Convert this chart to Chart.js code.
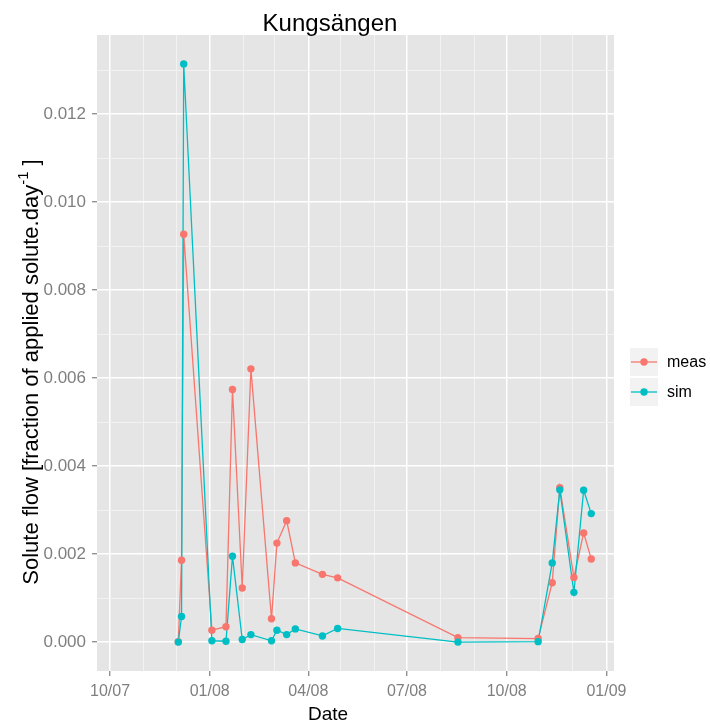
<!DOCTYPE html>
<html>
<head>
<meta charset="utf-8">
<script src="https://cdn.jsdelivr.net/npm/chart.js@4.4.0/dist/chart.umd.min.js"></script>
<style>
html, body { margin: 0; padding: 0; background: #ffffff; }
#chartBox { width: 710px; height: 725px; }
</style>
</head>
<body>
<div id="chartBox"><canvas id="flowChart" width="710" height="725"></canvas></div>
<script>
// sampling dates and the two series (fraction of applied solute per day)
var sampleDates = ["2007-12-03", "2007-12-06", "2007-12-08", "2008-01-03", "2008-01-16", "2008-01-22", "2008-01-31",
                   "2008-02-08", "2008-02-27", "2008-03-03", "2008-03-12", "2008-03-20", "2008-04-14", "2008-04-28",
                   "2008-08-17", "2008-10-30", "2008-11-12", "2008-11-19", "2008-12-02", "2008-12-11", "2008-12-18"];
var measValues = [0.00001, 0.00186, 0.00927, 0.00027, 0.00035, 0.00574, 0.00123,
                  0.00621, 0.00053, 0.00225, 0.00276, 0.00180, 0.00154, 0.00146,
                  0.00010, 0.00008, 0.00135, 0.00351, 0.00147, 0.00248, 0.00189];
var simValues = [0.00000, 0.00058, 0.01314, 0.00003, 0.00002, 0.00195, 0.00006,
                 0.00017, 0.00003, 0.00027, 0.00017, 0.00030, 0.00014, 0.00031,
                 0.00000, 0.00001, 0.00180, 0.00346, 0.00113, 0.00345, 0.00292];
var seriesNames = ["meas", "sim"];
var seriesColors = ["#F8766D", "#00BFC4"];

// axis breaks
var xMajorDates = ["2007-10-01", "2008-01-01", "2008-04-01", "2008-07-01", "2008-10-01", "2009-01-01"];
var xMajorLabels = ["10/07", "01/08", "04/08", "07/08", "10/08", "01/09"];
var xMinorDates = ["2007-11-01", "2007-12-01", "2008-02-01", "2008-03-01", "2008-05-01", "2008-06-01",
                   "2008-08-01", "2008-09-01", "2008-11-01", "2008-12-01"];
var xLimits = ["2007-09-19", "2009-01-08"];
var yMajorTicks = [0, 0.002, 0.004, 0.006, 0.008, 0.010, 0.012];
var yTickLabels = ["0.000", "0.002", "0.004", "0.006", "0.008", "0.010", "0.012"];
var yMinorTicks = [0.001, 0.003, 0.005, 0.007, 0.009, 0.011, 0.013];
var yLimits = [-0.000657, 0.013797];

var chartTitle = "Kungsängen";
var xTitle = "Date";
var yTitleMain = "Solute flow [fraction of applied solute.day";
var yTitleSup = "-1";
var yTitleEnd = " ]";

var fontFamily = "'Liberation Sans', Arial, sans-serif";

function toTime(s)
{
    var p = s.split("-");
    return Date.UTC(+p[0], +p[1] - 1, +p[2]);
}

var xMajorTimes = xMajorDates.map(toTime);
var xMinorTimes = xMinorDates.map(toTime);

function majorIndexX(v)
{
    for (var i = 0; i < xMajorTimes.length; i++)
    {
        if (Math.abs(xMajorTimes[i] - v) < 1000) return i;
    }
    return -1;
}

function majorIndexY(v)
{
    for (var i = 0; i < yMajorTicks.length; i++)
    {
        if (Math.abs(yMajorTicks[i] - v) < 1e-9) return i;
    }
    return -1;
}

function makePoints(values)
{
    var pts = [];
    for (var i = 0; i < sampleDates.length; i++)
    {
        pts.push({x: toTime(sampleDates[i]), y: values[i]});
    }
    return pts;
}

var measPoints = makePoints(measValues);
var simPoints = makePoints(simValues);

var panelPlugin = {
    id: "panelPlugin",
    beforeDraw: function (chart) {
        var ctx = chart.ctx;
        var a = chart.chartArea;
        ctx.save();
        ctx.fillStyle = "#ffffff";
        ctx.fillRect(0, 0, chart.width, chart.height);
        ctx.fillStyle = "#E5E5E5";
        ctx.fillRect(a.left, a.top, a.right - a.left, a.bottom - a.top);
        ctx.restore();
    },
    afterDraw: function (chart) {
        var ctx = chart.ctx;
        ctx.save();

        // title
        ctx.fillStyle = "#000000";
        ctx.font = "24px " + fontFamily;
        ctx.textAlign = "center";
        ctx.textBaseline = "alphabetic";
        ctx.fillText(chartTitle, 330, 31);

        // x axis title
        ctx.font = "19px " + fontFamily;
        ctx.fillText(xTitle, 328, 720);

        // y axis title with superscript
        ctx.translate(38, 372);
        ctx.rotate(-Math.PI / 2);
        ctx.textAlign = "left";
        ctx.font = "22px " + fontFamily;
        var w1 = ctx.measureText(yTitleMain).width;
        var w3 = ctx.measureText(yTitleEnd).width;
        ctx.font = "15px " + fontFamily;
        var w2 = ctx.measureText(yTitleSup).width;
        var start = -(w1 + w2 + w3) / 2;
        ctx.font = "22px " + fontFamily;
        ctx.fillText(yTitleMain, start, 0);
        ctx.font = "15px " + fontFamily;
        ctx.fillText(yTitleSup, start + w1, -10);
        ctx.font = "22px " + fontFamily;
        ctx.fillText(yTitleEnd, start + w1 + w2, 0);
        ctx.restore();

        // legend
        ctx.save();
        var keyLeft = 629, keySize = 30, keyTop = 347;
        for (var i = 0; i < seriesNames.length; i++)
        {
            var top = keyTop + i * keySize;
            ctx.fillStyle = "#F2F2F2";
            ctx.fillRect(keyLeft, top, keySize, keySize);
            ctx.strokeStyle = "#ffffff";
            ctx.lineWidth = 1;
            ctx.strokeRect(keyLeft + 0.5, top + 0.5, keySize - 1, keySize - 1);
            var cy = top + keySize / 2;
            ctx.strokeStyle = seriesColors[i];
            ctx.lineWidth = 1.3;
            ctx.beginPath();
            ctx.moveTo(keyLeft + 2, cy);
            ctx.lineTo(keyLeft + keySize - 2, cy);
            ctx.stroke();
            ctx.fillStyle = seriesColors[i];
            ctx.beginPath();
            ctx.arc(keyLeft + keySize / 2, cy, 3.7, 0, Math.PI * 2);
            ctx.fill();
            ctx.fillStyle = "#000000";
            ctx.font = "16px " + fontFamily;
            ctx.textAlign = "left";
            ctx.textBaseline = "middle";
            ctx.fillText(seriesNames[i], 667, cy + 1);
        }
        ctx.restore();
    }
};

var flowChart = new Chart(document.getElementById("flowChart"), {
    type: "line",
    data: {
        datasets: [
            {
                label: "meas line",
                data: measPoints,
                borderColor: seriesColors[0],
                borderWidth: 1.3,
                pointRadius: 0,
                tension: 0,
                order: 4
            },
            {
                label: "sim line",
                data: simPoints,
                borderColor: seriesColors[1],
                borderWidth: 1.3,
                pointRadius: 0,
                tension: 0,
                order: 3
            },
            {
                label: "meas",
                data: measPoints,
                showLine: false,
                pointRadius: 3.7,
                pointBorderWidth: 0,
                pointBackgroundColor: seriesColors[0],
                borderColor: seriesColors[0],
                order: 2
            },
            {
                label: "sim",
                data: simPoints,
                showLine: false,
                pointRadius: 3.7,
                pointBorderWidth: 0,
                pointBackgroundColor: seriesColors[1],
                borderColor: seriesColors[1],
                order: 1
            }
        ]
    },
    options: {
        responsive: false,
        animation: false,
        devicePixelRatio: 1,
        layout: {
            padding: {left: 0, top: 35, right: 96, bottom: 0}
        },
        plugins: {
            legend: {display: false},
            title: {display: false},
            tooltip: {enabled: false}
        },
        scales: {
            x: {
                type: "linear",
                min: toTime(xLimits[0]),
                max: toTime(xLimits[1]),
                afterBuildTicks: function (scale) {
                    var all = xMajorTimes.concat(xMinorTimes).sort(function (a, b) { return a - b; });
                    scale.ticks = all.map(function (v) { return {value: v}; });
                },
                afterFit: function (scale) {
                    scale.height = 54;
                },
                border: {display: false},
                grid: {
                    color: function (c) { return majorIndexX(c.tick.value) >= 0 ? "#FFFFFF" : "#F2F2F2"; },
                    lineWidth: function (c) { return majorIndexX(c.tick.value) >= 0 ? 1.5 : 1; },
                    tickColor: function (c) { return majorIndexX(c.tick.value) >= 0 ? "#7F7F7F" : "rgba(0,0,0,0)"; },
                    tickLength: 5,
                    tickWidth: 1.2
                },
                ticks: {
                    autoSkip: false,
                    maxRotation: 0,
                    padding: 6,
                    color: "#7F7F7F",
                    font: {family: fontFamily, size: 16},
                    callback: function (value) {
                        var i = majorIndexX(value);
                        return i >= 0 ? xMajorLabels[i] : "";
                    }
                }
            },
            y: {
                type: "linear",
                min: yLimits[0],
                max: yLimits[1],
                afterBuildTicks: function (scale) {
                    var all = yMajorTicks.concat(yMinorTicks).sort(function (a, b) { return a - b; });
                    scale.ticks = all.map(function (v) { return {value: v}; });
                },
                afterFit: function (scale) {
                    scale.width = 97;
                },
                border: {display: false},
                grid: {
                    color: function (c) { return majorIndexY(c.tick.value) >= 0 ? "#FFFFFF" : "#F2F2F2"; },
                    lineWidth: function (c) { return majorIndexY(c.tick.value) >= 0 ? 1.5 : 1; },
                    tickColor: function (c) { return majorIndexY(c.tick.value) >= 0 ? "#7F7F7F" : "rgba(0,0,0,0)"; },
                    tickLength: 5,
                    tickWidth: 1.2
                },
                ticks: {
                    autoSkip: false,
                    padding: 6,
                    color: "#7F7F7F",
                    font: {family: fontFamily, size: 17},
                    callback: function (value) {
                        var i = majorIndexY(value);
                        return i >= 0 ? yTickLabels[i] : "";
                    }
                }
            }
        }
    },
    plugins: [panelPlugin]
});
</script>
</body>
</html>
